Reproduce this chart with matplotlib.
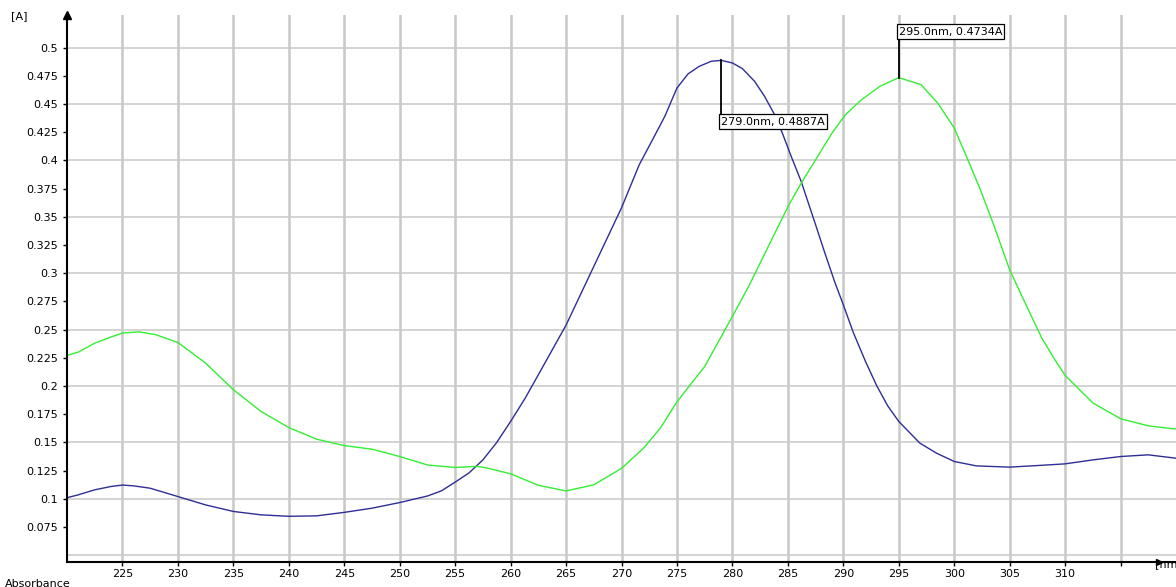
import numpy as np
import matplotlib
matplotlib.use("Agg")
import matplotlib.pyplot as plt

# --- spectrum data ---
wl_blue = [220, 221, 222.5, 224, 225, 226, 227.5, 230, 232.5, 235, 237.5, 240, 242.5,
           245, 247.5, 250, 252.5, 253.75, 255, 256.25, 257.5, 258.75, 260, 261.3, 262.5,
           265, 267.5, 270, 271.6, 272.8, 273.9, 275, 276, 277, 278.1, 279, 280, 280.9,
           282, 282.9, 283.8, 284.5, 285.3, 286.2, 286.9, 287.5, 288.3, 289.2, 290, 290.9,
           292, 293, 294, 295, 296.9, 298.4, 300, 302, 305, 307.5, 310, 312.5, 315, 317.5,
           320]
abs_blue = [0.101, 0.1035, 0.108, 0.111, 0.1122, 0.1115, 0.1094, 0.102, 0.0946, 0.0888,
            0.0858, 0.0845, 0.0849, 0.088, 0.0917, 0.0967, 0.1025, 0.107, 0.1148, 0.123,
            0.1345, 0.150, 0.1686, 0.189, 0.210, 0.254, 0.306, 0.358, 0.3962, 0.4184,
            0.439, 0.4642, 0.4767, 0.4834, 0.4879, 0.4887, 0.4864, 0.4814, 0.4701, 0.4568,
            0.4406, 0.4243, 0.4036, 0.3814, 0.3607, 0.343, 0.319, 0.293, 0.272, 0.2475,
            0.2218, 0.2005, 0.1825, 0.1686, 0.1494, 0.1405, 0.1331, 0.1292, 0.1281, 0.1295,
            0.131, 0.1345, 0.1375, 0.139, 0.136]

wl_green = [220, 221, 222.5, 223.7, 225, 226.5, 228, 230, 232.5, 235, 237.5, 240, 242.5,
            245, 247.5, 250, 252.5, 255, 257, 258, 260, 262.5, 265, 267.5, 270, 272,
            273.5, 275, 277.5, 280, 281.5, 283.3, 285.1, 286.3, 287.5, 289, 290.2, 291.6,
            293.3, 295, 297, 298.5, 300, 301.1, 302.3, 303.5, 305, 306.4, 307.9, 309,
            310, 312.5, 315, 317.5, 320]
abs_green = [0.2272, 0.230, 0.238, 0.2425, 0.247, 0.248, 0.2455, 0.2386, 0.2203, 0.1967,
             0.1774, 0.1632, 0.1529, 0.1472, 0.144, 0.1375, 0.130, 0.1278, 0.1288, 0.127,
             0.1222, 0.112, 0.107, 0.1124, 0.127, 0.145, 0.1627, 0.186, 0.2173, 0.2617,
             0.289, 0.325, 0.3607, 0.3814, 0.4005, 0.4245, 0.4406, 0.4535, 0.4657, 0.4734,
             0.4672, 0.451, 0.4288, 0.4036, 0.3755, 0.3445, 0.3031, 0.2735, 0.2425, 0.2245,
             0.2095, 0.185, 0.171, 0.1647, 0.1618]

# peak markers: (wavelength, absorbance, label end)
peak_wl = [279.0, 295.0]
peak_abs = [0.4887, 0.4734]
label_y = [0.4388, 0.5098]

xticks = [225, 230, 235, 240, 245, 250, 255, 260, 265, 270, 275, 280, 285, 290, 295,
          300, 305, 310, 315]
xlabels = [str(t) for t in xticks[:-1]] + [""]
yticks = [0.075, 0.1, 0.125, 0.15, 0.175, 0.2, 0.225, 0.25, 0.275, 0.3, 0.325, 0.35,
          0.375, 0.4, 0.425, 0.45, 0.475, 0.5]
ygrid = [0.05, 0.1, 0.15, 0.2, 0.25, 0.3, 0.35, 0.4, 0.45, 0.5]

fig = plt.figure(figsize=(11.76, 5.87), dpi=100)
ax = fig.add_axes([0.057, 0.0426, 0.943, 0.932])
ax.set_xlim(220, 320)
ax.set_ylim(0.044, 0.529)

for t in xticks:
    ax.axvline(t, color="#c8c8c8", lw=1.8, zorder=0)
for g in ygrid:
    ax.axhline(g, color="#cccccc", lw=1.2, zorder=0)

ax.plot(wl_blue, abs_blue, color="#2e2e96", lw=1.0)
ax.plot(wl_green, abs_green, color="#33ee33", lw=1.0)

for w, a, ly in zip(peak_wl, peak_abs, label_y):
    ax.plot([w, w], [a, ly], color="black", lw=1.3)
    va = "top" if ly < a else "bottom"
    ax.text(w, ly, f"{w:.1f}nm, {a:.4f}A", fontsize=8, ha="left", va=va,
            bbox=dict(boxstyle="square,pad=0.2", fc="white", ec="black", lw=0.9))

ax.set_xticks(xticks)
ax.set_xticklabels(xlabels)
ax.set_yticks(yticks)
ax.set_yticklabels([f"{t:g}" for t in yticks])
ax.tick_params(axis="both", labelsize=8, length=3, width=1, colors="black")
ax.tick_params(axis="x", pad=2)

for s in ["top", "right"]:
    ax.spines[s].set_visible(False)
for s in ["left", "bottom"]:
    ax.spines[s].set_linewidth(1.5)

# axis arrows
ax.plot(0, 1, "^k", ms=6, transform=ax.transAxes, clip_on=False)
ax.plot(0.985, 0, ">k", ms=5, transform=ax.transAxes, clip_on=False)

fig.text(0.009, 0.967, "[A]", fontsize=8)
fig.text(0.004, 0.0, "Absorbance", fontsize=8)
fig.text(0.982, 0.034, "[nm", fontsize=8)

fig.savefig("out.png", dpi=100)
